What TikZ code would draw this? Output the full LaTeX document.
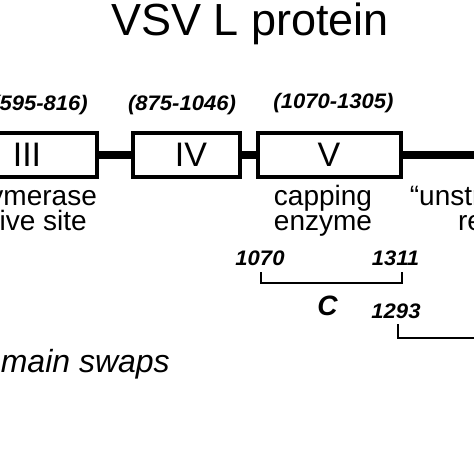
\documentclass[tikz,border=0pt]{standalone}
\usepackage{fontspec}
\setmainfont{Liberation Sans}
\newcommand{\fsz}[1]{\fontsize{#1}{#1}\selectfont}
\newcommand{\wide}[1]{\scalebox{1.05}[1]{#1}}
\begin{document}
\begin{tikzpicture}[x=1pt,y=-1pt,
  domainbox/.style={draw, line width=4pt, inner sep=0pt, minimum height=44.5pt},
  linker/.style={line width=8pt},
  bracketline/.style={line width=2.5pt},
  titletext/.style={anchor=base, inner sep=0pt, font=\fsz{45}},
  rangetext/.style={anchor=base, inner sep=0pt, font=\fsz{21}\bfseries\itshape},
  romantext/.style={anchor=base, inner sep=0pt, font=\fsz{34}},
  desctext/.style={anchor=base, inner sep=0pt, font=\fsz{28}},
  bigital/.style={anchor=base, inner sep=0pt, font=\fsz{28}\bfseries\itshape},
  swaptext/.style={anchor=base east, inner sep=0pt, font=\fsz{32}\itshape}]
\useasboundingbox (0,0) rectangle (474,474);
\clip (0,0) rectangle (474,474);
% title
\node[titletext] (title) at (250,35) {VSV L protein};
% ranges
\node[rangetext, anchor=base east] (r3) at (88,110) {\wide{(595-816)}};
\node[rangetext] (r4) at (182,110) {\wide{(875-1046)}};
\node[rangetext] (r5) at (333.5,108) {\wide{(1070-1305)}};
% domain boxes
\node[domainbox, minimum width=127pt] (III) at (33.5,154.75) {};
\node[domainbox, minimum width=107pt] (IV) at (186.5,154.75) {};
\node[domainbox, minimum width=143pt] (V) at (329.5,154.75) {};
\coordinate (tail) at (500,154.75);
\draw[linker] (III.east) -- (IV.west);
\draw[linker] (IV.east) -- (V.west);
\draw[linker] (V.east) -- (tail);
% numerals
\node[romantext] (n3) at (27,166) {III};
\node[romantext] (n4) at (191,166) {IV};
\node[romantext] (n5) at (329,166) {V};
% descriptions
\node[desctext] (pol1) at (24.5,205) {polymerase};
\node[desctext] (pol2) at (24.5,230) {active site};
\node[desctext] (cap1) at (323,205) {capping};
\node[desctext] (cap2) at (323,230) {enzyme};
\node[desctext] (uns1) at (497,205) {“unstructured”};
\node[desctext] (uns2) at (497,230) {region};
% bracket C
\node[rangetext] (c1) at (260,265) {\wide{1070}};
\node[rangetext] (c2) at (395.5,265) {\wide{1311}};
\coordinate (cA) at (261,272);
\coordinate (cB) at (261,283);
\coordinate (cC) at (402,283);
\coordinate (cD) at (402,272);
\draw[bracketline] (cA) -- (cB) -- (cC) -- (cD);
\node[bigital] (C) at (327.5,315) {C};
% second bracket
\node[rangetext] (d1) at (396,318) {\wide{1293}};
\coordinate (dA) at (398,324);
\coordinate (dB) at (398,338);
\coordinate (dC) at (500,338);
\draw[bracketline] (dA) -- (dB) -- (dC);
% swaps
\node[swaptext] (swaps) at (170,372) {Domain swaps};
\end{tikzpicture}
\end{document}
